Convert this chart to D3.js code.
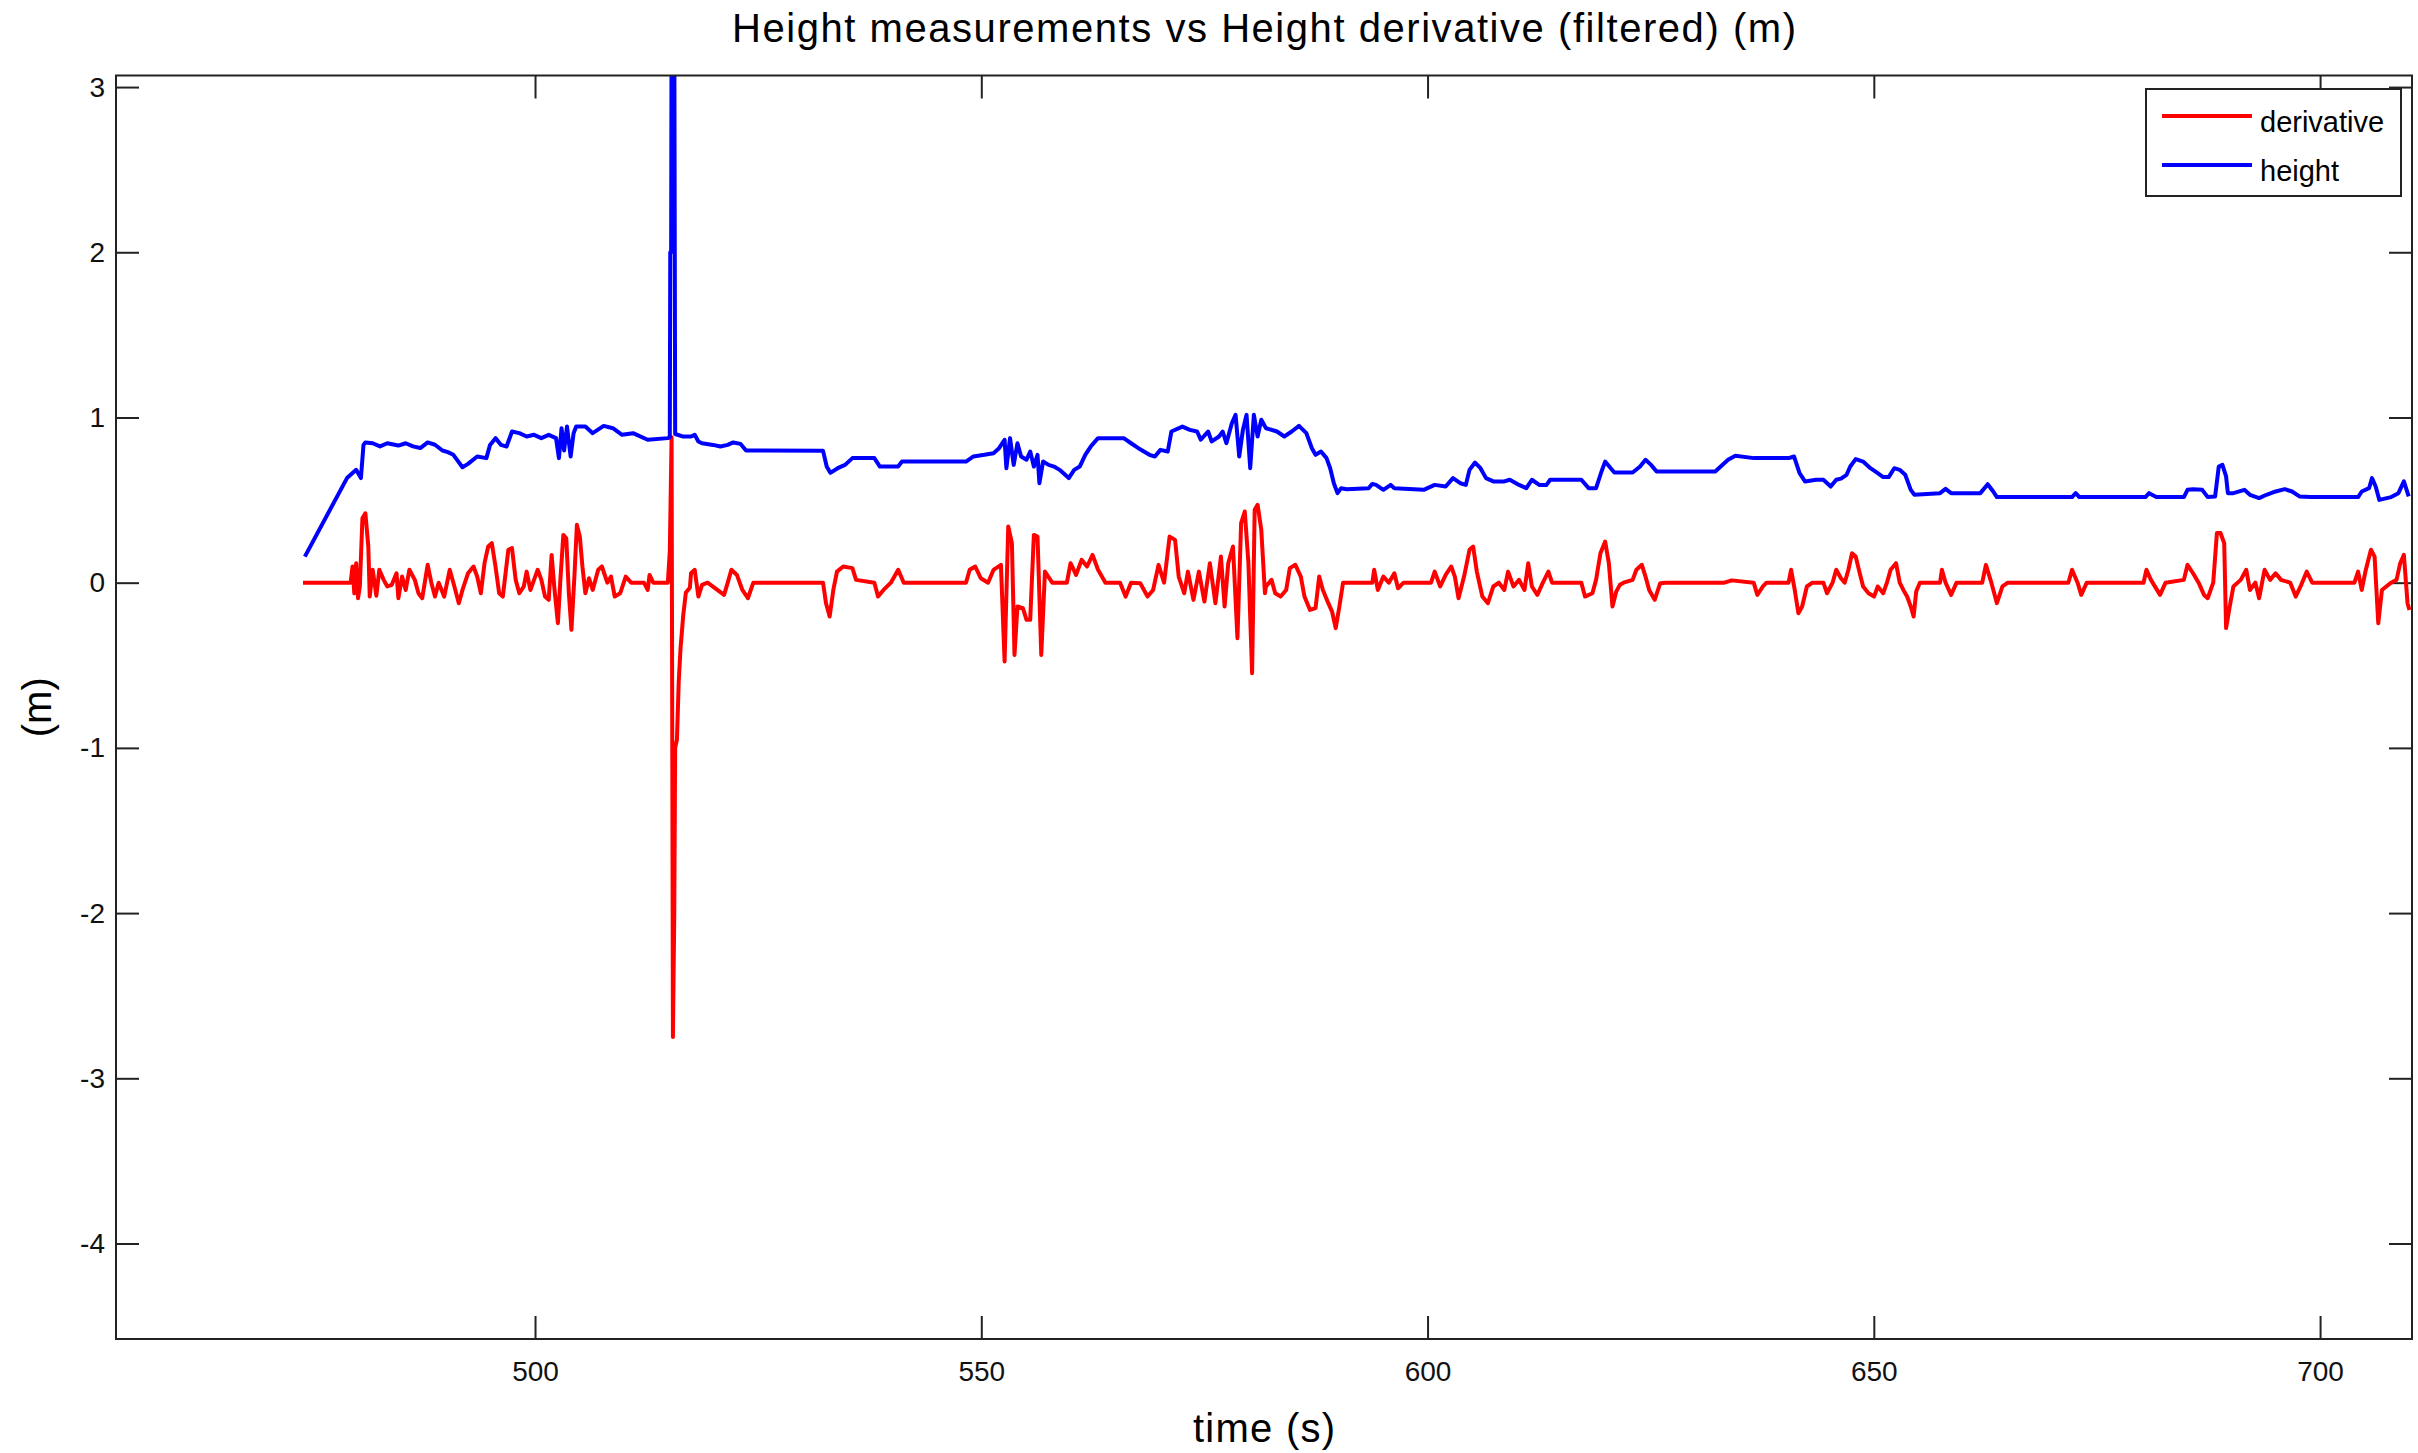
<!DOCTYPE html>
<html>
<head>
<meta charset="utf-8">
<script src="https://cdn.jsdelivr.net/npm/d3@7"></script>
<style>
  body { margin: 0; background: #fff; }
  text { font-family: "Liberation Sans", Arial, sans-serif; fill: #000; }
</style>
</head>
<body>
<svg id="chart"></svg>
<script>
// values: [time (s), value (m)]
const derivativePoints = [
  [474.0, 0], [479.34, 0], [479.55, 0.098], [479.75, -0.064], [479.96, 0.118], [480.17, -0.094],
  [480.37, -0.023], [480.66, 0.39], [480.99, 0.42], [481.32, 0.219], [481.48, -0.084], [481.81, 0.078],
  [482.22, -0.079], [482.55, 0.078], [483.04, 0.017], [483.45, -0.023], [483.95, -0.013], [484.48, 0.057],
  [484.69, -0.094], [485.1, 0.037], [485.51, -0.044], [485.92, 0.078], [486.53, 0.017], [486.94, -0.064],
  [487.36, -0.094], [487.97, 0.108], [488.38, 0], [488.79, -0.084], [489.2, 0], [489.82, -0.084],
  [490.44, 0.078], [490.85, 0], [491.46, -0.124], [491.87, -0.044], [492.49, 0.057], [493.11, 0.098],
  [493.52, 0.037], [493.93, -0.064], [494.34, 0.118], [494.75, 0.219], [495.16, 0.239], [495.57, 0.098],
  [495.98, -0.064], [496.39, -0.084], [497.01, 0.199], [497.42, 0.209], [497.83, 0.017], [498.24, -0.064],
  [498.74, -0.023], [499.06, 0.067], [499.48, -0.044], [499.89, 0.017], [500.3, 0.078], [500.71, 0.017],
  [501.12, -0.084], [501.53, -0.104], [501.86, 0.168], [502.15, -0.023], [502.56, -0.245], [502.84, 0.017],
  [503.17, 0.289], [503.5, 0.269], [503.79, -0.064], [504.08, -0.285], [504.41, 0.037], [504.69, 0.35],
  [505.02, 0.279], [505.31, 0.098], [505.64, -0.064], [506.05, 0.027], [506.46, -0.044], [507.08, 0.078],
  [507.49, 0.098], [508.1, 0], [508.51, 0.037], [508.93, -0.084], [509.54, -0.064], [510.16, 0.037],
  [510.77, 0], [512.21, 0], [512.62, -0.044], [512.83, 0.047], [513.24, 0], [514.88, 0],
  [515.1, 0.19], [515.3, 0.88], [515.45, -2.75], [515.6, -2.0], [515.7, -1.0], [515.9, -0.95],
  [516.1, -0.6], [516.3, -0.4], [516.6, -0.2], [516.9, -0.06], [517.35, -0.03],
  [517.48, 0.057], [517.89, 0.078], [518.3, -0.084], [518.71, -0.013], [519.33, 0], [521.18, -0.074],
  [521.59, 0], [522.0, 0.078], [522.62, 0.047], [523.23, -0.044], [523.85, -0.094], [524.46, 0],
  [532.27, 0], [532.6, -0.124], [533.01, -0.205], [533.42, -0.044], [533.83, 0.067], [534.53, 0.098],
  [535.56, 0.088], [535.97, 0.017], [538.02, 0], [538.43, -0.084], [539.05, -0.044], [539.87, 0],
  [540.69, 0.078], [541.31, 0], [548.29, 0], [548.7, 0.078], [549.32, 0.098], [549.94, 0.027],
  [550.76, 0], [551.37, 0.078], [552.2, 0.108], [552.61, -0.477], [553.02, 0.34], [553.43, 0.239],
  [553.72, -0.437], [554.05, -0.144], [554.66, -0.154], [555.07, -0.225], [555.48, -0.225], [555.89, 0.289],
  [556.3, 0.279], [556.72, -0.437], [557.13, 0.067], [557.95, 0], [559.59, 0], [560.0, 0.118],
  [560.62, 0.047], [561.24, 0.138], [561.85, 0.098], [562.47, 0.168], [563.08, 0.078], [563.91, 0],
  [565.55, 0], [566.17, -0.084], [566.78, 0], [567.81, -0.003], [568.63, -0.084], [569.25, -0.044],
  [569.86, 0.108], [570.48, 0], [571.1, 0.279], [571.71, 0.259], [572.12, 0.037], [572.74, -0.064],
  [573.15, 0.067], [573.77, -0.104], [574.38, 0.067], [575.0, -0.114], [575.61, 0.118], [576.23, -0.124],
  [576.85, 0.158], [577.26, -0.144], [577.67, 0.118], [578.2, 0.219], [578.7, -0.336], [579.11, 0.36],
  [579.52, 0.431], [579.93, 0.118], [580.34, -0.548], [580.63, 0.441], [580.96, 0.471], [581.37, 0.32],
  [581.78, -0.064], [581.9, -0.023], [582.52, 0.017], [582.93, -0.064], [583.54, -0.084], [584.16, -0.044],
  [584.57, 0.088], [585.19, 0.108], [585.8, 0.037], [586.21, -0.084], [586.83, -0.165], [587.45, -0.154],
  [587.86, 0.037], [588.27, -0.044], [588.88, -0.124], [589.3, -0.175], [589.71, -0.275], [590.12, -0.144],
  [590.53, 0], [593.81, 0], [594.02, 0.078], [594.43, -0.044], [595.05, 0.037], [595.66, 0],
  [596.28, 0.057], [596.69, -0.034], [597.31, 0], [600.39, 0], [600.8, 0.067], [601.42, -0.023],
  [602.03, 0.047], [602.65, 0.098], [603.06, 0.037], [603.47, -0.094], [604.09, 0.037], [604.7, 0.199],
  [605.11, 0.219], [605.52, 0.067], [606.14, -0.084], [606.76, -0.124], [607.37, -0.023], [607.99, 0],
  [608.6, -0.044], [609.02, 0.067], [609.63, -0.023], [610.25, 0.017], [610.86, -0.044], [611.28, 0.118],
  [611.69, -0.023], [612.3, -0.074], [612.92, 0], [613.54, 0.067], [613.95, 0], [617.23, 0],
  [617.64, -0.084], [618.47, -0.064], [618.88, 0.017], [619.37, 0.178], [619.9, 0.249], [620.31, 0.118],
  [620.72, -0.144], [621.14, -0.054], [621.55, -0.013], [621.96, 0], [622.98, 0.017], [623.4, 0.078],
  [624.01, 0.108], [624.42, 0.037], [624.83, -0.044], [625.45, -0.104], [626.07, -0.003], [626.68, 0],
  [633.26, 0], [634.08, 0.014], [636.54, 0], [636.95, -0.074], [637.57, -0.023], [637.98, 0],
  [640.45, 0], [640.73, 0.078], [641.14, -0.044], [641.55, -0.185], [641.97, -0.144], [642.5, -0.023],
  [643.12, 0], [644.35, 0], [644.76, -0.064], [645.38, 0], [645.79, 0.078], [646.32, 0.027],
  [646.74, 0], [647.15, 0.078], [647.56, 0.178], [647.97, 0.158], [648.38, 0.067], [648.8, -0.023],
  [649.41, -0.064], [650.03, -0.084], [650.44, -0.023], [651.05, -0.064], [651.47, 0], [651.88, 0.078],
  [652.49, 0.118], [652.9, 0], [653.31, -0.044], [653.73, -0.084], [654.14, -0.144], [654.46, -0.205],
  [654.75, -0.054], [655.16, 0], [657.42, 0], [657.63, 0.078], [658.04, 0], [658.66, -0.074],
  [659.27, 0], [662.15, 0], [662.56, 0.108], [663.17, 0], [663.79, -0.124], [664.41, -0.023],
  [665.02, 0], [671.8, 0], [672.21, 0.078], [672.83, 0], [673.24, -0.074], [673.86, 0],
  [680.22, 0], [680.55, 0.078], [681.05, 0.017], [682.07, -0.074], [682.69, 0], [684.74, 0.017],
  [685.15, 0.108], [685.77, 0.057], [686.39, 0], [687.0, -0.074], [687.41, -0.094], [688.03, 0],
  [688.44, 0.3], [688.85, 0.3], [689.26, 0.239], [689.47, -0.275], [689.88, -0.144], [690.29, -0.023],
  [691.11, 0.017], [691.73, 0.078], [692.14, -0.044], [692.75, 0], [693.17, -0.094], [693.78, 0.078],
  [694.4, 0.017], [695.02, 0.057], [695.63, 0.017], [696.66, 0], [697.27, -0.084], [697.89, -0.013],
  [698.51, 0.067], [699.12, 0], [703.85, 0], [704.26, 0.067], [704.67, -0.044], [705.08, 0.067],
  [705.7, 0.199], [706.11, 0.158], [706.52, -0.245], [706.93, -0.044], [707.96, 0], [708.57, 0.017],
  [708.98, 0.118], [709.39, 0.168], [709.8, -0.124], [710.01, -0.165]
];

const heightPoints = [
  [474.21, 0.158], [478.93, 0.633], [479.96, 0.683], [480.49, 0.633], [480.78, 0.834], [480.99, 0.849],
  [481.81, 0.844], [482.63, 0.825], [483.45, 0.844], [484.68, 0.83], [485.51, 0.844], [486.33, 0.825],
  [487.15, 0.815], [487.97, 0.849], [488.79, 0.835], [489.62, 0.8], [490.23, 0.79], [490.85, 0.774],
  [491.87, 0.699], [492.49, 0.719], [493.52, 0.764], [494.55, 0.754], [494.96, 0.834], [495.57, 0.875],
  [496.19, 0.834], [496.81, 0.824], [497.42, 0.915], [498.24, 0.905], [499.06, 0.885], [499.89, 0.895],
  [500.71, 0.875], [501.53, 0.895], [502.35, 0.875], [502.68, 0.754], [502.97, 0.935], [503.26, 0.8],
  [503.58, 0.945], [503.99, 0.764], [504.32, 0.905], [504.61, 0.945], [505.64, 0.945], [506.46, 0.905],
  [507.69, 0.949], [508.72, 0.935], [509.75, 0.895], [510.98, 0.905], [512.62, 0.865], [514.88, 0.875],
  [515.1, 0.88], [515.15, 2.0], [515.25, 2.0], [515.3, 3.5], [515.6, 3.5], [515.7, 0.9],
  [516.53, 0.885], [517.48, 0.885], [517.89, 0.895], [518.3, 0.855], [518.71, 0.844], [519.95, 0.834],
  [520.77, 0.824], [521.59, 0.834], [522.2, 0.849], [523.03, 0.84], [523.64, 0.8], [532.27, 0.798],
  [532.68, 0.703], [533.09, 0.665], [533.91, 0.693], [534.74, 0.713], [535.56, 0.754], [538.02, 0.754],
  [538.64, 0.703], [540.69, 0.703], [541.1, 0.733], [548.29, 0.733], [549.12, 0.764], [550.35, 0.774],
  [551.37, 0.784], [551.99, 0.814], [552.61, 0.865], [552.81, 0.693], [553.22, 0.875], [553.63, 0.713],
  [554.05, 0.844], [554.46, 0.764], [555.07, 0.744], [555.48, 0.794], [555.89, 0.703], [556.3, 0.774],
  [556.51, 0.602], [556.92, 0.733], [557.54, 0.713], [558.15, 0.703], [558.77, 0.683], [559.8, 0.633],
  [560.41, 0.683], [561.03, 0.703], [561.65, 0.774], [562.26, 0.824], [563.08, 0.875], [565.96, 0.875],
  [566.78, 0.844], [567.6, 0.814], [568.84, 0.774], [569.45, 0.764], [570.07, 0.804], [570.89, 0.794],
  [571.3, 0.915], [572.53, 0.945], [573.36, 0.925], [574.18, 0.915], [574.59, 0.865], [575.41, 0.915],
  [575.82, 0.855], [576.64, 0.885], [577.05, 0.915], [577.46, 0.844], [578.08, 0.966], [578.49, 1.016],
  [578.9, 0.764], [579.31, 0.925], [579.72, 1.016], [580.13, 0.693], [580.54, 1.016], [580.96, 0.885],
  [581.37, 0.986], [581.9, 0.935], [583.13, 0.915], [583.95, 0.885], [584.78, 0.915], [585.6, 0.949],
  [586.42, 0.905], [587.04, 0.814], [587.45, 0.774], [588.06, 0.794], [588.68, 0.754], [589.09, 0.693],
  [589.5, 0.602], [589.91, 0.542], [590.32, 0.572], [590.94, 0.566], [593.4, 0.572], [593.81, 0.598],
  [594.23, 0.592], [595.05, 0.562], [595.87, 0.592], [596.28, 0.572], [599.57, 0.562], [600.8, 0.592],
  [602.03, 0.582], [602.85, 0.633], [603.67, 0.602], [604.29, 0.592], [604.7, 0.683], [605.32, 0.727],
  [605.93, 0.693], [606.55, 0.633], [607.37, 0.613], [608.6, 0.613], [609.22, 0.623], [610.25, 0.592],
  [611.07, 0.572], [611.69, 0.623], [612.51, 0.592], [613.33, 0.592], [613.74, 0.623], [617.23, 0.623],
  [618.05, 0.572], [618.88, 0.572], [619.49, 0.673], [619.9, 0.733], [620.52, 0.693], [620.93, 0.667],
  [622.98, 0.667], [623.81, 0.703], [624.42, 0.744], [625.04, 0.713], [625.66, 0.673], [632.23, 0.673],
  [633.67, 0.744], [634.49, 0.768], [636.54, 0.754], [640.45, 0.754], [641.06, 0.764], [641.68, 0.663],
  [642.29, 0.613], [643.53, 0.623], [644.35, 0.623], [645.17, 0.582], [645.79, 0.623], [646.32, 0.63],
  [646.95, 0.653], [647.36, 0.703], [647.97, 0.748], [648.8, 0.733], [649.62, 0.693], [650.44, 0.663],
  [651.05, 0.639], [651.67, 0.639], [652.29, 0.693], [652.9, 0.683], [653.52, 0.653], [654.14, 0.562],
  [654.55, 0.532], [657.42, 0.542], [658.04, 0.568], [658.66, 0.542], [661.94, 0.542], [662.76, 0.596],
  [663.38, 0.552], [663.79, 0.518], [672.21, 0.518], [672.62, 0.542], [673.03, 0.518], [680.43, 0.518],
  [680.84, 0.542], [681.66, 0.518], [684.74, 0.518], [685.15, 0.562], [685.77, 0.566], [686.8, 0.562],
  [687.41, 0.518], [688.24, 0.522], [688.65, 0.703], [689.06, 0.713], [689.47, 0.643], [689.67, 0.542],
  [690.29, 0.542], [691.52, 0.562], [692.14, 0.532], [693.17, 0.512], [693.99, 0.532], [695.02, 0.552],
  [696.04, 0.566], [696.86, 0.552], [697.69, 0.522], [698.92, 0.518], [704.26, 0.518], [704.67, 0.552],
  [705.49, 0.572], [705.82, 0.633], [706.23, 0.582], [706.64, 0.501], [707.96, 0.518], [708.78, 0.542],
  [709.39, 0.613], [709.93, 0.522]
];

const seriesNames = ["derivative", "height"];
const seriesColors = ["#ff0000", "#0000ff"];
const xTicks = [500, 550, 600, 650, 700];
const yTicks = [-4, -3, -2, -1, 0, 1, 2, 3];
const xDomain = [453.05, 710.3];
const yDomain = [-4.578, 3.07];

const titleText = "Height measurements vs Height derivative (filtered) (m)";
const xLabelText = "time (s)";
const yLabelText = "(m)";

const width = 2418;
const height = 1453;
const margin = {top: 75.5, right: 6, bottom: 114, left: 116};
const tickLen = 23;
const axisColor = "#222222";

const svg = d3.select("#chart")
    .attr("width", width)
    .attr("height", height);

svg.append("rect")
    .attr("width", width)
    .attr("height", height)
    .style("fill", "white");

const xScale = d3.scaleLinear()
    .domain(xDomain)
    .range([margin.left, width - margin.right]);

const yScale = d3.scaleLinear()
    .domain(yDomain)
    .range([height - margin.bottom, margin.top]);

const plotLeft = xScale.range()[0], plotRight = xScale.range()[1];
const plotTop = yScale.range()[1], plotBottom = yScale.range()[0];

svg.append("clipPath")
    .attr("id", "plot-clip")
    .append("rect")
    .attr("x", plotLeft)
    .attr("y", plotTop)
    .attr("width", plotRight - plotLeft)
    .attr("height", plotBottom - plotTop);

//axes: ticks point inwards on all four sides
const xAxis = d3.axisBottom(xScale)
    .tickValues(xTicks)
    .tickSizeInner(-tickLen)
    .tickSizeOuter(0)
    .tickPadding(22)
    .tickFormat(d => String(d));

const xAxisTop = d3.axisTop(xScale)
    .tickValues(xTicks)
    .tickSizeInner(-tickLen)
    .tickSizeOuter(0)
    .tickFormat("");

const yAxis = d3.axisLeft(yScale)
    .tickValues(yTicks)
    .tickSizeInner(-tickLen)
    .tickSizeOuter(0)
    .tickPadding(11)
    .tickFormat(d => String(d));

const yAxisRight = d3.axisRight(yScale)
    .tickValues(yTicks)
    .tickSizeInner(-tickLen)
    .tickSizeOuter(0)
    .tickFormat("");

function styleAxis(sel) {
    sel.select(".domain").remove();
    sel.selectAll(".tick line")
        .style("stroke", axisColor)
        .style("stroke-width", 2);
    sel.selectAll(".tick text")
        .style("font-family", "'Liberation Sans', Arial, sans-serif")
        .style("font-size", "28px")
        .style("fill", "#111");
}

svg.append("g")
    .attr("transform", `translate(0, ${plotBottom})`)
    .call(xAxis)
    .call(styleAxis);

svg.append("g")
    .attr("transform", `translate(0, ${plotTop})`)
    .call(xAxisTop)
    .call(styleAxis);

svg.append("g")
    .attr("transform", `translate(${plotLeft}, 0)`)
    .call(yAxis)
    .call(styleAxis);

svg.append("g")
    .attr("transform", `translate(${plotRight}, 0)`)
    .call(yAxisRight)
    .call(styleAxis);

//lines
const lineGenerator = d3.line()
    .x(d => xScale(d[0]))
    .y(d => yScale(d[1]));

const plotGroup = svg.append("g")
    .attr("clip-path", "url(#plot-clip)");

[derivativePoints, heightPoints].forEach((points, i) => {
    plotGroup.append("path")
        .datum(points)
        .attr("d", lineGenerator)
        .style("fill", "none")
        .style("stroke", seriesColors[i])
        .style("stroke-width", 4)
        .style("stroke-linejoin", "round");
});

//box
svg.append("rect")
    .attr("x", plotLeft)
    .attr("y", plotTop)
    .attr("width", plotRight - plotLeft)
    .attr("height", plotBottom - plotTop)
    .style("fill", "none")
    .style("stroke", axisColor)
    .style("stroke-width", 2);

//legend
const legend = svg.append("g")
    .attr("transform", `translate(${plotRight - 266}, ${plotTop + 13.5})`);

legend.append("rect")
    .attr("width", 255)
    .attr("height", 107)
    .style("fill", "white")
    .style("stroke", axisColor)
    .style("stroke-width", 2);

seriesNames.forEach((name, i) => {
    const y = 27 + i * 49;
    legend.append("line")
        .attr("x1", 16)
        .attr("x2", 106)
        .attr("y1", y)
        .attr("y2", y)
        .style("stroke", seriesColors[i])
        .style("stroke-width", 4);
    legend.append("text")
        .attr("x", 114)
        .attr("y", y + 16)
        .style("font-size", "29px")
        .text(name);
});

//titles
svg.append("text")
    .attr("x", (plotLeft + plotRight) / 2)
    .attr("y", 42)
    .attr("text-anchor", "middle")
    .attr("textLength", 1064)
    .attr("lengthAdjust", "spacing")
    .style("font-size", "40px")
    .text(titleText);

svg.append("text")
    .attr("x", (plotLeft + plotRight) / 2)
    .attr("y", 1442)
    .attr("text-anchor", "middle")
    .attr("textLength", 142)
    .attr("lengthAdjust", "spacing")
    .style("font-size", "40px")
    .text(xLabelText);

svg.append("text")
    .attr("transform", `translate(51, ${(plotTop + plotBottom) / 2}) rotate(-90)`)
    .attr("text-anchor", "middle")
    .style("font-size", "40px")
    .text(yLabelText);
</script>
</body>
</html>
